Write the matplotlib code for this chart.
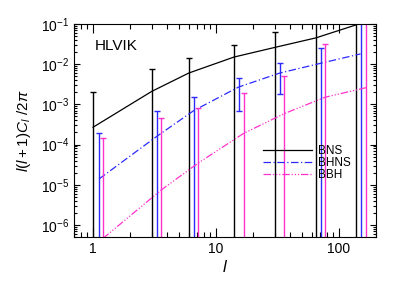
import matplotlib
matplotlib.use("Agg")
import matplotlib.pyplot as plt
from matplotlib.ticker import LogLocator, NullFormatter

plt.rcParams['font.family'] = ['Liberation Sans', 'DejaVu Sans']
plt.rcParams['mathtext.fontset'] = 'custom'
plt.rcParams['mathtext.rm'] = 'Liberation Sans'
plt.rcParams['mathtext.it'] = 'Liberation Sans:italic'

# multipoles (slightly shifted per source for readability)
ell_bns = [1, 3, 6, 14, 30, 65, 137]
ell_bhns = [1.12, 3.3, 6.6, 15.3, 33, 71, 150]
ell_bbh = [1.2, 3.6, 7.2, 16.8, 36, 77, 166]

# angular power spectrum l(l+1)C_l/2pi
bns = [2.7e-4, 2.1e-3, 6.0e-3, 1.5e-2, 2.6e-2, 4.5e-2, 9.4e-2]
bhns = [1.4e-5, 1.6e-4, 7.0e-4, 2.7e-3, 6.0e-3, 1.05e-2, 1.8e-2]
bbh = [4.6e-7, 7.5e-6, 3.5e-5, 1.9e-4, 5.9e-4, 1.5e-3, 2.6e-3]

# error bar limits
bns_hi = [2.0e-3, 7.5e-3, 1.4e-2, 3.0e-2, 6.3e-2, 1.0, 1.0]
bns_lo = [1e-9] * 7
bhns_hi = [1.9e-4, 6.7e-4, 1.5e-3, 4.5e-3, 1.05e-2, 2.5e-2, 1.0]
bhns_lo = [1e-9, 1e-9, 1e-9, 6.7e-4, 1.8e-3, 1e-9, 1e-9]
bbh_hi = [1.5e-4, 4.5e-4, 8.0e-4, 1.9e-3, 5.0e-3, 3.2e-2, 1.0]
bbh_lo = [1e-9] * 7

c_bns, c_bhns, c_bbh = 'black', '#2b2bff', '#ff33cc'

fig = plt.figure(figsize=(3.99, 2.85), dpi=100)
ax = fig.add_axes([0.1855, 0.168, 0.7565, 0.748])

series = [
    (ell_bns, bns, bns_lo, bns_hi, c_bns, '-', 'BNS'),
    (ell_bhns, bhns, bhns_lo, bhns_hi, c_bhns, (0, (6, 2, 1, 2)), 'BHNS'),
    (ell_bbh, bbh, bbh_lo, bbh_hi, c_bbh, (0, (6, 1.5, 1, 1.5, 1, 1.5, 1, 1.5)), 'BBH'),
]

for ell, val, lo, hi, col, ls, lab in series:
    err = [[v - l for v, l in zip(val, lo)], [h - v for v, h in zip(val, hi)]]
    ax.errorbar(ell, val, yerr=err, fmt='none', ecolor=col, elinewidth=1.0,
                capsize=2.2, capthick=1.0)
    ax.plot(ell, val, color=col, linestyle=ls, linewidth=0.9, label=lab)

ax.set_xscale('log')
ax.set_yscale('log')
ax.set_xlim(0.7, 200)
ax.set_ylim(5e-7, 1e-1)

ax.xaxis.set_major_locator(LogLocator(base=10, numticks=10))
ax.xaxis.set_minor_locator(LogLocator(base=10, subs=range(2, 10), numticks=20))
ax.xaxis.set_minor_formatter(NullFormatter())
ax.yaxis.set_major_locator(LogLocator(base=10, numticks=10))
ax.yaxis.set_minor_locator(LogLocator(base=10, subs=range(2, 10), numticks=20))
ax.yaxis.set_minor_formatter(NullFormatter())
ax.xaxis.set_major_formatter(plt.FuncFormatter(lambda v, p: '%g' % v))

ax.tick_params(axis='both', which='both', direction='in', top=True, right=True,
               labelsize=10, width=0.8)
ax.tick_params(axis='x', which='major', length=6.5)
ax.tick_params(axis='x', which='minor', length=3.5)
ax.tick_params(axis='y', which='major', length=4.5)
ax.tick_params(axis='y', which='minor', length=2.5)

ax.set_xlabel(r'$l$', fontsize=12, labelpad=2)
ax.set_ylabel(r'$l(l+1)C_l\ /2\pi$', fontsize=11, labelpad=6)

ax.text(0.07, 0.88, 'HLVIK', transform=ax.transAxes, fontsize=11)

ax.legend(loc='upper left', bbox_to_anchor=(0.625, 0.43), frameon=False,
          fontsize=8.5, handlelength=4.2, handletextpad=0.5, labelspacing=0.0,
          borderpad=0, borderaxespad=0)

fig.savefig('out.png', dpi=100)
